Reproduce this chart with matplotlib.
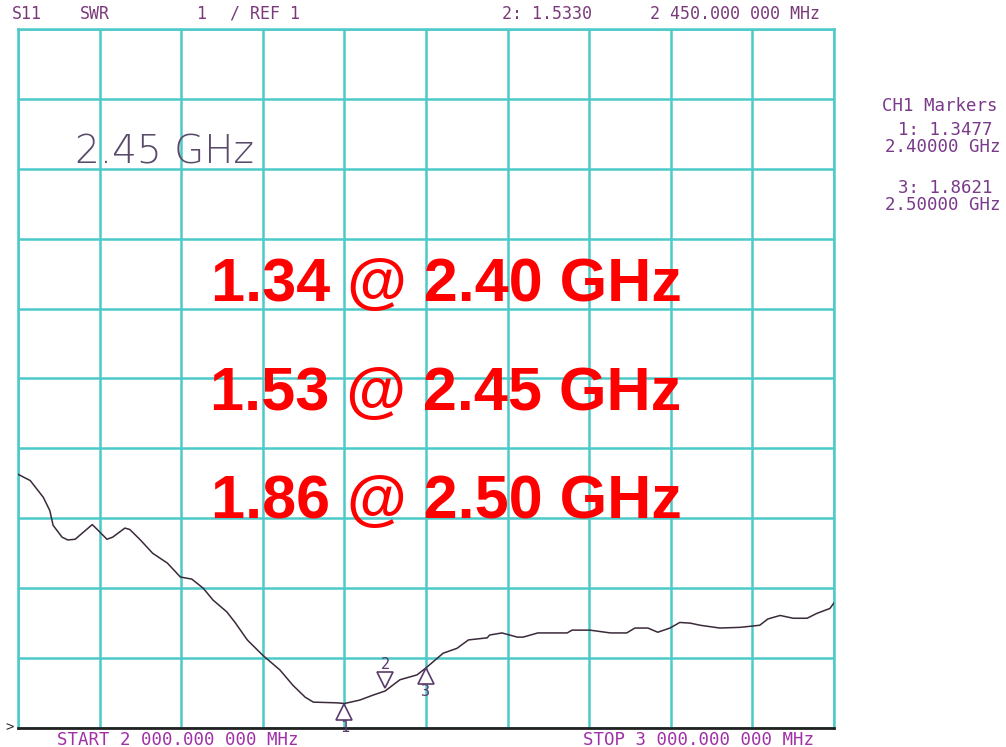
import numpy as np
import matplotlib
matplotlib.use("Agg")
import matplotlib.pyplot as plt
from matplotlib.transforms import offset_copy

# trace: frequency (GHz) vs SWR
freq_ghz = [2.000, 2.015, 2.031, 2.039, 2.043, 2.054, 2.061, 2.070, 2.080, 2.091,
            2.098, 2.109, 2.116, 2.131, 2.137, 2.150, 2.165, 2.183, 2.199, 2.213,
            2.227, 2.239, 2.256, 2.266, 2.281, 2.300, 2.321, 2.337, 2.352, 2.362,
            2.391, 2.400, 2.419, 2.435, 2.450, 2.468, 2.489, 2.500, 2.521, 2.538,
            2.552, 2.575, 2.578, 2.593, 2.612, 2.619, 2.637, 2.673, 2.679, 2.701,
            2.726, 2.746, 2.756, 2.772, 2.784, 2.799, 2.811, 2.824, 2.836, 2.860,
            2.885, 2.909, 2.919, 2.934, 2.950, 2.967, 2.979, 2.995, 3.000]
swr = [4.63, 4.54, 4.30, 4.11, 3.90, 3.73, 3.69, 3.70, 3.80, 3.91,
       3.83, 3.70, 3.73, 3.86, 3.84, 3.69, 3.50, 3.36, 3.16, 3.13,
       3.00, 2.83, 2.66, 2.51, 2.26, 2.04, 1.83, 1.61, 1.44, 1.37,
       1.36, 1.35, 1.40, 1.47, 1.53, 1.69, 1.76, 1.86, 2.07, 2.14,
       2.26, 2.29, 2.33, 2.36, 2.30, 2.30, 2.36, 2.36, 2.40, 2.40,
       2.36, 2.36, 2.43, 2.43, 2.37, 2.43, 2.51, 2.50, 2.47, 2.43,
       2.44, 2.47, 2.56, 2.61, 2.57, 2.57, 2.64, 2.71, 2.79]

marker_ids = ["1", "2", "3"]
marker_freq = [2.40, 2.45, 2.50]
marker_swr = [1.3477, 1.5330, 1.8621]

callouts = ["1.34 @ 2.40 GHz", "1.53 @ 2.45 GHz", "1.86 @ 2.50 GHz"]

W, H = 1006, 747
fig = plt.figure(figsize=(W / 100, H / 100), dpi=100)
ax = fig.add_axes([18 / W, (H - 728) / H, (834 - 18) / W, (728 - 29) / H])

grid_col = "#4cc9c9"
ax.set_xlim(2.0, 3.0)
ax.set_ylim(1, 11)
ax.set_xticks(np.arange(2.0, 3.01, 0.1))
ax.set_yticks(np.arange(1, 12, 1))
ax.tick_params(length=0, labelbottom=False, labelleft=False)
ax.grid(True, color=grid_col, lw=1.8)
for side in ["left", "right", "top"]:
    ax.spines[side].set_color(grid_col)
    ax.spines[side].set_linewidth(1.8)
ax.spines["bottom"].set_color("#222222")
ax.spines["bottom"].set_linewidth(2)

ax.plot(freq_ghz, swr, color="#3a2a3a", lw=1.1, zorder=3)

# marker triangles
mk_col = "#5a3a6a"
for mid, f, s in zip(marker_ids, marker_freq, marker_swr):
    if mid == "2":
        tr = offset_copy(ax.transData, fig=fig, x=0, y=8, units="points")
        ax.plot(f, s, marker="v", ms=12, mfc="white", mec=mk_col, mew=1.2,
                transform=tr, zorder=4, clip_on=False)
        tr2 = offset_copy(ax.transData, fig=fig, x=0, y=19, units="points")
        ax.text(f, s, mid, transform=tr2, ha="center", va="center", zorder=6,
                family="DejaVu Sans Mono", fontsize=11, color=mk_col, clip_on=False)
    else:
        tr = offset_copy(ax.transData, fig=fig, x=0, y=-6, units="points")
        ax.plot(f, s, marker="^", ms=12, mfc="white", mec=mk_col, mew=1.2,
                transform=tr, zorder=4, clip_on=False)
        tr2 = offset_copy(ax.transData, fig=fig, x=0, y=-17, units="points")
        ax.text(f, s, mid, transform=tr2, ha="center", va="center", zorder=6,
                family="DejaVu Sans Mono", fontsize=11, color=mk_col, clip_on=False)

# instrument annotations
mono = "DejaVu Sans Mono"
top_col = "#7a3a7a"
def ftxt(x, y, s, **kw):
    fig.text(x / W, 1 - y / H, s, va="center", **kw)

ftxt(12, 14, "S11", family=mono, fontsize=12, color=top_col)
ftxt(80, 14, "SWR", family=mono, fontsize=12, color=top_col)
ftxt(196, 14, "1", family=mono, fontsize=12, color=top_col)
ftxt(230, 14, "/ REF 1", family=mono, fontsize=12, color=top_col)
ftxt(502, 14, "2: 1.5330", family=mono, fontsize=12, color=top_col)
ftxt(650, 14, "2 450.000 000 MHz", family=mono, fontsize=12, color=top_col)

rc = "#7a3a8a"
ftxt(940, 106, "CH1 Markers", family=mono, fontsize=12.5, color=rc, ha="center")
ftxt(945, 130, "1: 1.3477", family=mono, fontsize=12.5, color=rc, ha="center")
ftxt(943, 147, "2.40000 GHz", family=mono, fontsize=12.5, color=rc, ha="center")
ftxt(945, 188, "3: 1.8621", family=mono, fontsize=12.5, color=rc, ha="center")
ftxt(943, 205, "2.50000 GHz", family=mono, fontsize=12.5, color=rc, ha="center")

bc = "#a030a8"
ftxt(57, 740, "START 2 000.000 000 MHz", family=mono, fontsize=12.5, color=bc)
ftxt(583, 740, "STOP 3 000.000 000 MHz", family=mono, fontsize=12.5, color=bc)
ftxt(5, 727, ">", family=mono, fontsize=10, color="#333333")

ftxt(75, 152, "2.45 GHz", family="DejaVu Sans", fontsize=28, weight="light",
     color="#5a4a6a")

for txt, y in zip(callouts, [285, 395, 503]):
    ftxt(446, y, txt, family="Liberation Sans", fontsize=44, weight="bold",
         color="#ff0000", ha="center")

fig.savefig("out.png", dpi=100)
